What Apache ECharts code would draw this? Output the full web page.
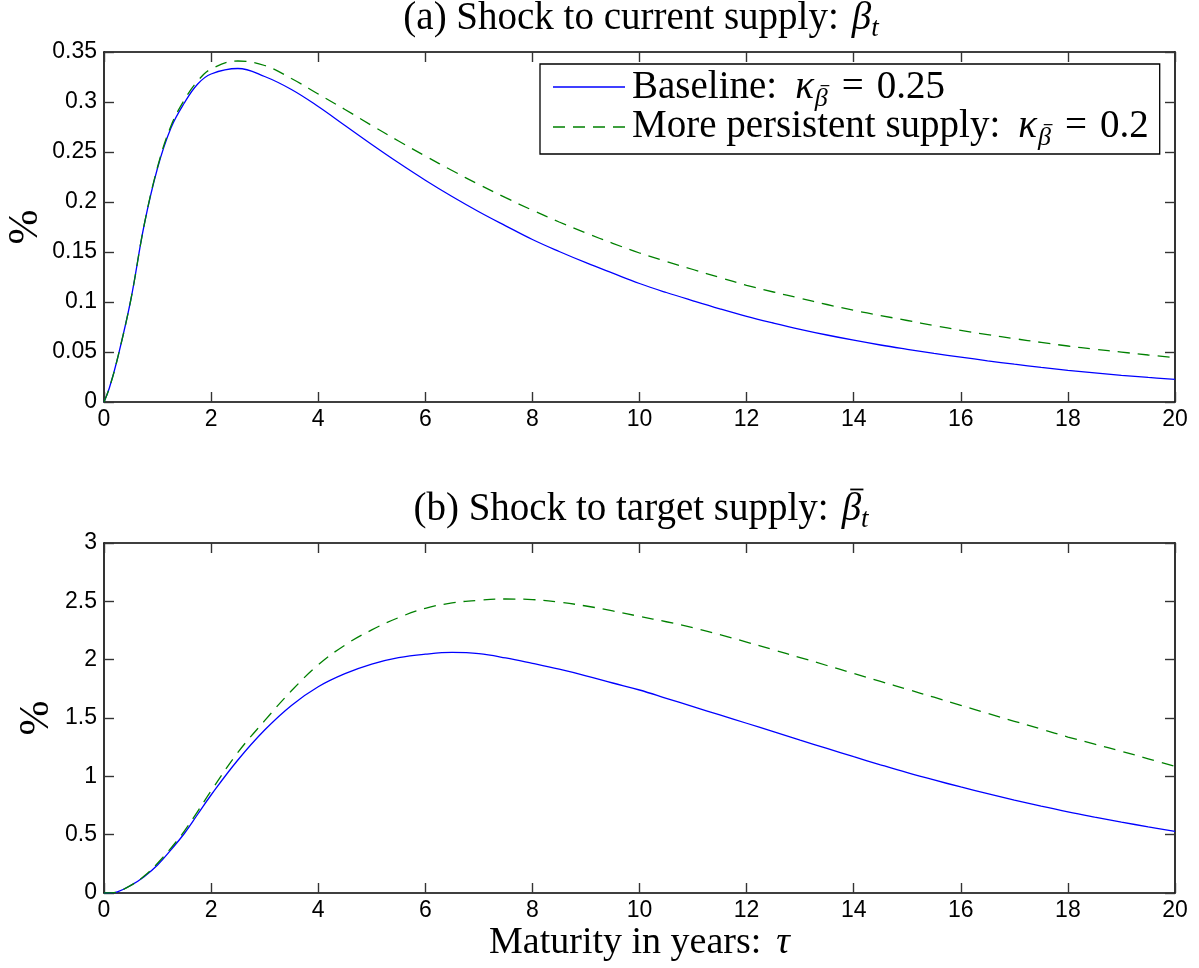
<!DOCTYPE html>
<html>
<head>
<meta charset="utf-8">
<title>Yield response to supply shocks</title>
<script src="https://cdn.jsdelivr.net/npm/echarts@6/dist/echarts.min.js"></script>
<style>
  html, body { margin: 0; padding: 0; background: #fff; }
  #chart { width: 1199px; height: 968px; }
</style>
</head>
<body>
<div id="chart"></div>
<script>
// Maturity grid (years) shared by every curve
const maturity = [0, 0.1, 0.25, 0.5, 0.75, 1, 1.25, 1.5, 1.75, 2, 2.5, 3, 3.5, 4, 4.5, 5, 5.5, 6, 6.5, 7, 7.5, 8,
                  8.5, 9, 9.5, 10, 10.5, 11, 11.5, 12, 12.5, 13, 13.5, 14, 14.5, 15, 15.5, 16, 16.5, 17, 17.5, 18,
                  18.5, 19, 19.5, 20];

// (a) shock to current supply, response in %
const currentBaseline = [0, 0.014, 0.043, 0.102, 0.177, 0.234, 0.274, 0.299, 0.318, 0.328, 0.3335, 0.3255, 0.3125,
                         0.2955, 0.2765, 0.2575, 0.2392, 0.2218, 0.2055, 0.1903, 0.1762, 0.1625, 0.1505, 0.1393,
                         0.1288, 0.1185, 0.1095, 0.1012, 0.0932, 0.0857, 0.079, 0.0727, 0.067, 0.0618, 0.057,
                         0.0527, 0.0486, 0.0449, 0.0412, 0.0378, 0.0346, 0.0317, 0.0291, 0.0267, 0.0246, 0.0227];
const currentPersistent = [0, 0.014, 0.043, 0.102, 0.177, 0.235, 0.276, 0.302, 0.321, 0.333, 0.341, 0.3365, 0.3235,
                           0.308, 0.2925, 0.2765, 0.261, 0.246, 0.2315, 0.2175, 0.2043, 0.1918, 0.18, 0.169, 0.1587,
                           0.149, 0.1405, 0.1325, 0.1245, 0.1167, 0.11, 0.1038, 0.0975, 0.0917, 0.0865, 0.0815,
                           0.0765, 0.0717, 0.0674, 0.0634, 0.0596, 0.056, 0.0528, 0.0499, 0.047, 0.0444];

// (b) shock to target supply, response in %
const targetBaseline = [0, 0.001, 0.01, 0.065, 0.14, 0.24, 0.37, 0.51, 0.675, 0.84, 1.14, 1.397, 1.608, 1.768, 1.88,
                        1.962, 2.017, 2.047, 2.062, 2.052, 2.015, 1.968, 1.918, 1.862, 1.80, 1.74, 1.669, 1.597,
                        1.526, 1.455, 1.383, 1.31, 1.239, 1.168, 1.099, 1.032, 0.969, 0.909, 0.852, 0.797, 0.745,
                        0.696, 0.651, 0.608, 0.567, 0.529];
const targetPersistent = [0, 0.001, 0.01, 0.065, 0.145, 0.255, 0.385, 0.53, 0.70, 0.875, 1.205, 1.477, 1.733, 1.955,
                          2.125, 2.255, 2.36, 2.44, 2.486, 2.509, 2.52, 2.515, 2.493, 2.46, 2.418, 2.371, 2.325,
                          2.274, 2.215, 2.151, 2.085, 2.018, 1.95, 1.882, 1.814, 1.746, 1.678, 1.609, 1.54, 1.472,
                          1.405, 1.337, 1.276, 1.215, 1.15, 1.086];

const seriesNames = ['Baseline', 'More persistent supply'];
const kappaValues = ['0.25', '0.2'];

const SERIF = '"Liberation Serif", serif';
const SANS = '"Liberation Sans", Arial, Helvetica, sans-serif';
const BLUE = '#0000ff';
const GREEN = '#008000';
const DASH = [12, 8];

const pairs = ys => maturity.map((t, i) => [t, ys[i]]);

// ---- serif text runs (math-style labels with sub-scripts and barred symbols) ----
const measureCtx = document.createElement('canvas').getContext('2d');
function textWidth(t, size, italic) {
  measureCtx.font = (italic ? 'italic ' : 'normal ') + 'normal ' + size + 'px ' + SERIF;
  return measureCtx.measureText(t).width;
}
// yBase is the text baseline; runs are drawn with a middle anchor offset from it
function layoutRuns(runs, x0, yBase) {
  const els = [];
  let x = x0;
  runs.forEach(r => {
    const w = textWidth(r.t, r.size, r.italic);
    const base = yBase + (r.dy || 0);
    els.push({
      type: 'text', x: x, y: base - 0.3375 * r.size, silent: true,
      style: {
        text: r.t, fontFamily: SERIF, fontSize: r.size, fontStyle: r.italic ? 'italic' : 'normal',
        fill: '#000', align: 'left', verticalAlign: 'middle'
      }
    });
    if (r.bar) {
      const barY = base - 0.86 * r.size;
      els.push({
        type: 'line', silent: true,
        shape: { x1: x + 0.22 * r.size, y1: barY, x2: x + w + 0.06 * r.size, y2: barY },
        style: { stroke: '#000', lineWidth: Math.max(1, r.size / 22) }
      });
    }
    x += w + (r.after || 0);
  });
  return { els: els, width: x - x0 };
}
function centeredRuns(runs, cx, yBase) {
  const w = layoutRuns(runs, 0, 0).width;
  return layoutRuns(runs, cx - w / 2, yBase).els;
}

const TITLE = 39;
const titleA = [
  { t: '(a) Shock to current supply:', size: TITLE, after: 13 },
  { t: 'β', size: TITLE, italic: true },
  { t: 't', size: 27, italic: true, dy: 6 }
];
const titleB = [
  { t: '(b) Shock to target supply:', size: TITLE, after: 13 },
  { t: 'β', size: TITLE, italic: true, bar: true },
  { t: 't', size: 27, italic: true, dy: 6 }
];

// legend drawn as a boxed key: sample line + label per series
const LEG = 39;
function legendRuns(i) {
  return [
    { t: seriesNames[i] + ':', size: LEG, after: 18 },
    { t: 'κ', size: LEG, italic: true, after: 1 },
    { t: 'β', size: 26, italic: true, dy: 7, bar: true, after: 14 },
    { t: '=', size: LEG, after: 13 },
    { t: kappaValues[i], size: LEG }
  ];
}
function legendGraphic() {
  const left = 540, top = 64, height = 90;
  const baselines = [101, 140];
  const sampleY = [87, 127];
  const lineX0 = 553, lineX1 = 625, textX = 632;
  const styles = [{ stroke: BLUE, lineWidth: 1.3 }, { stroke: GREEN, lineWidth: 1.3, lineDash: DASH }];
  let textEls = [];
  let right = 0;
  baselines.forEach((y, i) => {
    const r = layoutRuns(legendRuns(i), textX, y);
    textEls = textEls.concat(r.els);
    right = Math.max(right, textX + r.width);
  });
  const box = {
    type: 'rect', silent: true,
    shape: { x: left, y: top, width: right + 11 - left, height: height },
    style: { fill: '#fff', stroke: '#000', lineWidth: 1.3 }
  };
  const samples = sampleY.map((y, i) => ({
    type: 'line', silent: true,
    shape: { x1: lineX0, y1: y, x2: lineX1, y2: y },
    style: styles[i]
  }));
  return [box].concat(samples, textEls);
}

// ---- axes: boxed frame with inward ticks on all four sides ----
const boxLine = { show: true, onZero: false, lineStyle: { color: '#000', width: 1.6 } };
const boxTick = { show: true, inside: true, length: 10, lineStyle: { color: '#333', width: 1.4 } };
const tickFont = { fontFamily: SANS, fontSize: 23, color: '#000' };

function xAxes(grid, withName) {
  return [
    {
      type: 'value', gridIndex: grid, position: 'bottom', min: 0, max: 20, interval: 2,
      axisLine: boxLine, axisTick: boxTick, splitLine: { show: false },
      axisLabel: Object.assign({ margin: 6 }, tickFont),
      name: withName ? '{r|Maturity in years:}{g| }{m|τ}' : '',
      nameLocation: 'middle', nameGap: 50,
      nameTextStyle: {
        verticalAlign: 'middle', fontFamily: SERIF, fontSize: 38, color: '#000',
        rich: {
          r: { fontFamily: SERIF, fontSize: 38, color: '#000' },
          g: { fontFamily: SERIF, fontSize: 38, color: '#000', width: 15 },
          m: { fontFamily: SERIF, fontSize: 38, fontStyle: 'italic', color: '#000' }
        }
      }
    },
    {
      type: 'value', gridIndex: grid, position: 'top', min: 0, max: 20, interval: 2,
      axisLine: boxLine, axisTick: boxTick, splitLine: { show: false }, axisLabel: { show: false }
    }
  ];
}

function yAxes(grid, max, interval, gap) {
  return [
    {
      type: 'value', gridIndex: grid, position: 'left', min: 0, max: max, interval: interval,
      axisLine: boxLine, axisTick: boxTick, splitLine: { show: false },
      axisLabel: Object.assign({ margin: 7 }, tickFont),
      name: '%', nameLocation: 'middle', nameRotate: 90, nameGap: gap, nameMoveOverlap: false,
      nameTextStyle: { fontFamily: SERIF, fontSize: 42, color: '#000', verticalAlign: 'middle' }
    },
    {
      type: 'value', gridIndex: grid, position: 'right', min: 0, max: max, interval: interval,
      axisLine: boxLine, axisTick: boxTick, splitLine: { show: false }, axisLabel: { show: false }
    }
  ];
}

function lineSeries(name, xi, yi, ys, color, dashed) {
  return {
    type: 'line', name: name, xAxisIndex: xi, yAxisIndex: yi,
    data: pairs(ys), symbol: 'none', smooth: 0.4, clip: true,
    lineStyle: { color: color, width: 1.3, type: dashed ? DASH : 'solid' },
    itemStyle: { color: color },
    emphasis: { disabled: true }
  };
}

const chart = echarts.init(document.getElementById('chart'), null, { renderer: 'canvas' });

chart.setOption({
  animation: false,
  backgroundColor: '#fff',
  grid: [
    { left: 104, top: 52, width: 1071, height: 350, containLabel: false, outerBoundsMode: 'none' },
    { left: 104, top: 543, width: 1071, height: 350, containLabel: false, outerBoundsMode: 'none' }
  ],
  xAxis: xAxes(0, false).concat(xAxes(1, true)),
  yAxis: yAxes(0, 0.35, 0.05, 78).concat(yAxes(1, 3, 0.5, 67)),
  graphic: centeredRuns(titleA, 641, 32)
    .concat(centeredRuns(titleB, 641, 523))
    .concat(legendGraphic()),
  series: [
    lineSeries(seriesNames[0], 0, 0, currentBaseline, BLUE, false),
    lineSeries(seriesNames[1], 0, 0, currentPersistent, GREEN, true),
    lineSeries(seriesNames[0], 2, 2, targetBaseline, BLUE, false),
    lineSeries(seriesNames[1], 2, 2, targetPersistent, GREEN, true)
  ]
});
</script>
</body>
</html>
